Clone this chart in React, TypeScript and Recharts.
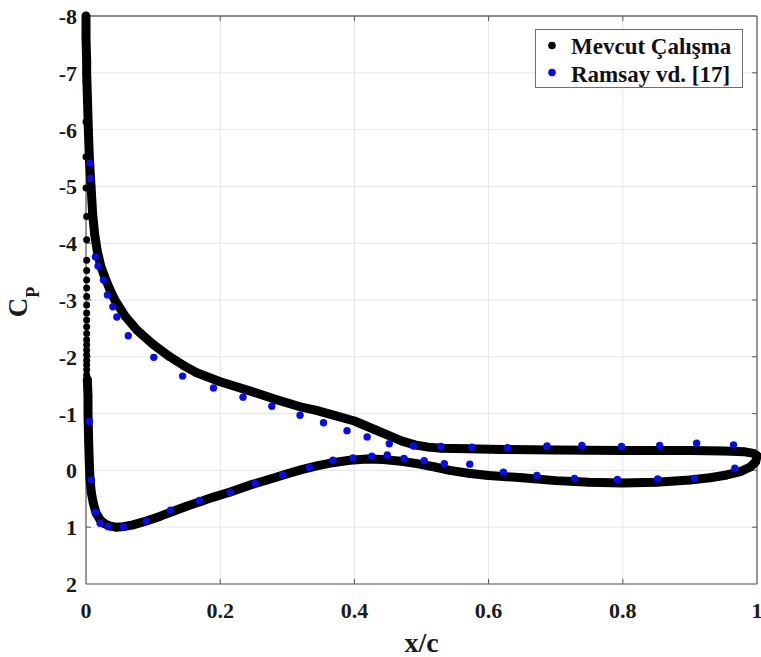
import React from 'react';
import {
  ScatterChart,
  Scatter,
  XAxis,
  YAxis,
  CartesianGrid,
  ReferenceLine,
  Legend,
} from 'recharts';

// ---------- data ----------
const xTicks = [0, 0.2, 0.4, 0.6, 0.8, 1];
const xTickLabels = ['0', '0.2', '0.4', '0.6', '0.8', '1'];
const cpTicks = [-8, -7, -6, -5, -4, -3, -2, -1, 0, 1, 2];

const seriesNames = ['Mevcut Çalışma', 'Ramsay vd. [17]'];

// Present study: suction side, leading edge -> trailing edge  [x/c, Cp]
const mevcutUpper: [number, number][] = [
  [0.0, -8.0], [0.0, -7.6], [0.001, -7.2], [0.001, -7.0], [0.002, -6.6], [0.0035, -6.0],
  [0.005, -5.5], [0.0075, -5.0], [0.01, -4.5], [0.013, -4.15], [0.017, -3.85], [0.022, -3.6],
  [0.028, -3.4], [0.035, -3.2], [0.043, -3.0], [0.058, -2.72], [0.076, -2.47], [0.1, -2.22],
  [0.125, -2.0], [0.145, -1.85], [0.165, -1.72], [0.2, -1.56], [0.244, -1.4], [0.28, -1.26],
  [0.319, -1.12], [0.342, -1.06], [0.37, -0.97], [0.4, -0.87], [0.43, -0.72], [0.45, -0.62],
  [0.47, -0.52], [0.49, -0.45], [0.51, -0.41], [0.53, -0.39], [0.567, -0.38], [0.62, -0.37],
  [0.7, -0.36], [0.8, -0.35], [0.9, -0.35], [0.95, -0.34], [0.98, -0.33], [0.995, -0.3],
  [1.0, -0.26],
];

// Present study: pressure side, trailing edge -> leading edge  [x/c, Cp]
const mevcutLower: [number, number][] = [
  [1.0, -0.26], [0.998, -0.15], [0.99, -0.06], [0.975, 0.02], [0.955, 0.08], [0.93, 0.13],
  [0.9, 0.17], [0.85, 0.21], [0.8, 0.22], [0.75, 0.21], [0.7, 0.18], [0.65, 0.13],
  [0.6, 0.09], [0.57, 0.05], [0.542, 0.0], [0.52, -0.06], [0.493, -0.12], [0.47, -0.16],
  [0.443, -0.19], [0.42, -0.2], [0.393, -0.18], [0.37, -0.14], [0.344, -0.08], [0.32, -0.01],
  [0.294, 0.08], [0.27, 0.17], [0.244, 0.26], [0.215, 0.38], [0.19, 0.47], [0.17, 0.55],
  [0.15, 0.63], [0.13, 0.72], [0.11, 0.81], [0.09, 0.89], [0.07, 0.96], [0.056, 0.99],
  [0.045, 1.0], [0.036, 0.98], [0.028, 0.94], [0.021, 0.87], [0.015, 0.75], [0.011, 0.58],
  [0.008, 0.4], [0.006, 0.15], [0.005, -0.1], [0.004, -0.5], [0.003, -1.0], [0.003, -1.3],
  [0.002, -1.6],
];

// Present study: sparse points right at the leading edge  [x/c, Cp]
const mevcutLeadingEdge: [number, number][] = [
  [0.0, -7.4], [0.0, -6.84], [0.0, -6.14], [0.0, -5.52], [0.0, -4.97], [0.001, -4.47],
  [0.001, -4.06], [0.001, -3.7], [0.001, -3.52], [0.001, -3.35], [0.001, -3.21], [0.001, -3.06],
  [0.001, -2.91], [0.001, -2.77], [0.001, -2.65], [0.001, -2.53], [0.001, -2.41], [0.001, -2.3],
  [0.001, -2.21], [0.001, -2.12], [0.001, -2.03], [0.001, -1.94], [0.001, -1.86], [0.001, -1.77],
  [0.001, -1.68],
];

// Ramsay et al. [17]: suction side  [x/c, Cp]
const ramsayUpper: [number, number][] = [
  [0.006, -5.41], [0.007, -5.14], [0.014, -3.76], [0.018, -3.6], [0.026, -3.35], [0.032, -3.09],
  [0.04, -2.88], [0.046, -2.7], [0.063, -2.37], [0.101, -1.99], [0.144, -1.66], [0.19, -1.45],
  [0.234, -1.29], [0.277, -1.13], [0.319, -0.97], [0.354, -0.84], [0.389, -0.7], [0.419, -0.59],
  [0.452, -0.47], [0.488, -0.43], [0.529, -0.42], [0.575, -0.41], [0.628, -0.4], [0.687, -0.43],
  [0.739, -0.44], [0.798, -0.42], [0.855, -0.44], [0.91, -0.48], [0.965, -0.45],
];

// Ramsay et al. [17]: pressure side  [x/c, Cp]
const ramsayLower: [number, number][] = [
  [0.005, -0.86], [0.008, 0.17], [0.014, 0.74], [0.021, 0.93], [0.033, 0.99], [0.056, 0.99],
  [0.09, 0.89], [0.126, 0.7], [0.169, 0.53], [0.215, 0.39], [0.252, 0.23], [0.293, 0.08],
  [0.333, -0.05], [0.368, -0.18], [0.398, -0.22], [0.426, -0.25], [0.449, -0.27], [0.474, -0.21],
  [0.504, -0.17], [0.534, -0.12], [0.572, -0.11], [0.622, 0.03], [0.672, 0.09], [0.728, 0.14],
  [0.792, 0.16], [0.852, 0.15], [0.907, 0.14], [0.967, -0.04],
];

// ---------- helpers ----------
const toPoints = (arr: [number, number][]) => arr.map(([x, cp]) => ({ x, cp }));

const mevcutCurve = toPoints([...mevcutUpper, ...mevcutLower]);
const mevcutLE = toPoints(mevcutLeadingEdge);
const ramsay = toPoints([...ramsayUpper, ...ramsayLower]);

const FONT = "'Liberation Serif', 'Times New Roman', Times, serif";
const BLACK = '#000000';
const BLUE = '#0a0af0';
const AXIS = '#5a5a5a';
const GRID = '#e4e4e4';

const XTick = (props: any) => {
  const { x, y, payload, index } = props;
  return (
    <text x={x} y={y + 34} textAnchor="middle" fontFamily={FONT} fontWeight={700} fontSize={22} fill="#1a1a1a">
      {xTickLabels[index] ?? String(payload.value)}
    </text>
  );
};

const YTick = (props: any) => {
  const { x, y, payload } = props;
  return (
    <text x={x} y={y + 8} textAnchor="end" fontFamily={FONT} fontWeight={700} fontSize={22} fill="#1a1a1a">
      {String(payload.value)}
    </text>
  );
};

const CpLabel = (props: any) => {
  const vb = props.viewBox || { x: 0, y: 16, width: 86, height: 568 };
  const cy = vb.y + vb.height / 2 + 2;
  const bx = 27;
  return (
    <text
      x={bx}
      y={cy}
      transform={`rotate(-90 ${bx} ${cy})`}
      textAnchor="middle"
      fontFamily={FONT}
      fontWeight={700}
      fontSize={27}
      fill="#1a1a1a"
    >
      <tspan>C</tspan>
      <tspan fontSize={18} dy={12}>P</tspan>
    </text>
  );
};

const XcLabel = (props: any) => {
  const vb = props.viewBox || { x: 86, y: 584, width: 671, height: 73 };
  const cx = vb.x + vb.width / 2;
  return (
    <text x={cx} y={652} textAnchor="middle" fontFamily={FONT} fontWeight={700} fontSize={28} fill="#1a1a1a">
      x/c
    </text>
  );
};

const dot = (color: string, r: number) => (props: any) => {
  const { cx, cy } = props;
  if (cx == null || cy == null) return <g />;
  return <circle cx={cx} cy={cy} r={r} fill={color} />;
};

const LegendBox = (props: any) => {
  const payload = (props.payload || []).filter((p: any) => seriesNames.includes(p.value));
  return (
    <svg width={208} height={59} style={{ display: 'block' }}>
      <rect x={0.5} y={0.5} width={207} height={58} fill="#ffffff" stroke="#6e6e6e" strokeWidth={1} />
      {payload.map((p: any, i: number) => (
        <g key={p.value}>
          <circle cx={17} cy={16.5 + i * 27} r={3.8} fill={p.color} />
          <text x={36} y={24.5 + i * 28.5} fontFamily={FONT} fontWeight={700} fontSize={23} fill="#111">
            {p.value}
          </text>
        </g>
      ))}
    </svg>
  );
};

const tickLen = { x: 0.0075, y: 0.09 };

export default function App() {
  return (
    <div style={{ position: 'absolute', left: 0, top: 0, width: 761, height: 657, background: '#fff' }}>
      <ScatterChart width={761} height={657} margin={{ top: 16, right: 4, bottom: 0, left: 0 }}>
        <CartesianGrid stroke={GRID} strokeWidth={1} horizontalValues={cpTicks} verticalValues={xTicks} />
        <XAxis
          type="number"
          dataKey="x"
          domain={[0, 1]}
          ticks={xTicks}
          height={73}
          tickSize={0}
          tickMargin={0}
          tick={<XTick />}
          axisLine={{ stroke: AXIS, strokeWidth: 1.2 }}
          tickLine={false}
          label={{ content: (p: any) => <XcLabel {...p} /> }}
        />
        <YAxis
          type="number"
          dataKey="cp"
          domain={[-8, 2]}
          reversed
          ticks={cpTicks}
          width={86}
          tickSize={0}
          tickMargin={9}
          tick={<YTick />}
          axisLine={{ stroke: AXIS, strokeWidth: 1.2 }}
          tickLine={false}
          label={{ content: (p: any) => <CpLabel {...p} /> }}
        />
        <ReferenceLine y={-8} stroke="#2a2a2a" strokeWidth={1.2} />
        <ReferenceLine x={1} stroke={AXIS} strokeWidth={1.2} />
        {xTicks.slice(1, -1).map((t) => (
          <ReferenceLine key={`bt${t}`} segment={[{ x: t, y: 2 }, { x: t, y: 2 - tickLen.y }]} stroke={AXIS} />
        ))}
        {xTicks.slice(1, -1).map((t) => (
          <ReferenceLine key={`tt${t}`} segment={[{ x: t, y: -8 }, { x: t, y: -8 + tickLen.y }]} stroke={AXIS} />
        ))}
        {cpTicks.slice(1, -1).map((c) => (
          <ReferenceLine key={`lt${c}`} segment={[{ x: 0, y: c }, { x: tickLen.x, y: c }]} stroke={AXIS} />
        ))}
        {cpTicks.slice(1, -1).map((c) => (
          <ReferenceLine key={`rt${c}`} segment={[{ x: 1, y: c }, { x: 1 - tickLen.x, y: c }]} stroke={AXIS} />
        ))}
        <Scatter
          name={seriesNames[0]}
          data={mevcutCurve}
          fill={BLACK}
          line={{ stroke: BLACK, strokeWidth: 9, strokeLinejoin: 'round', strokeLinecap: 'round' }}
          lineType="joint"
          shape={dot(BLACK, 4.2)}
          isAnimationActive={false}
        />
        <Scatter
          name="le"
          data={mevcutLE}
          fill={BLACK}
          legendType="none"
          shape={dot(BLACK, 3.5)}
          isAnimationActive={false}
        />
        <Scatter
          name={seriesNames[1]}
          data={ramsay}
          fill={BLUE}
          shape={dot(BLUE, 3.7)}
          isAnimationActive={false}
        />
        <Legend
          layout="horizontal"
          align="center"
          verticalAlign="middle"
          wrapperStyle={{ left: 535, top: 29, width: 208, height: 59 }}
          content={(p: any) => <LegendBox {...p} />}
        />
      </ScatterChart>
    </div>
  );
}
